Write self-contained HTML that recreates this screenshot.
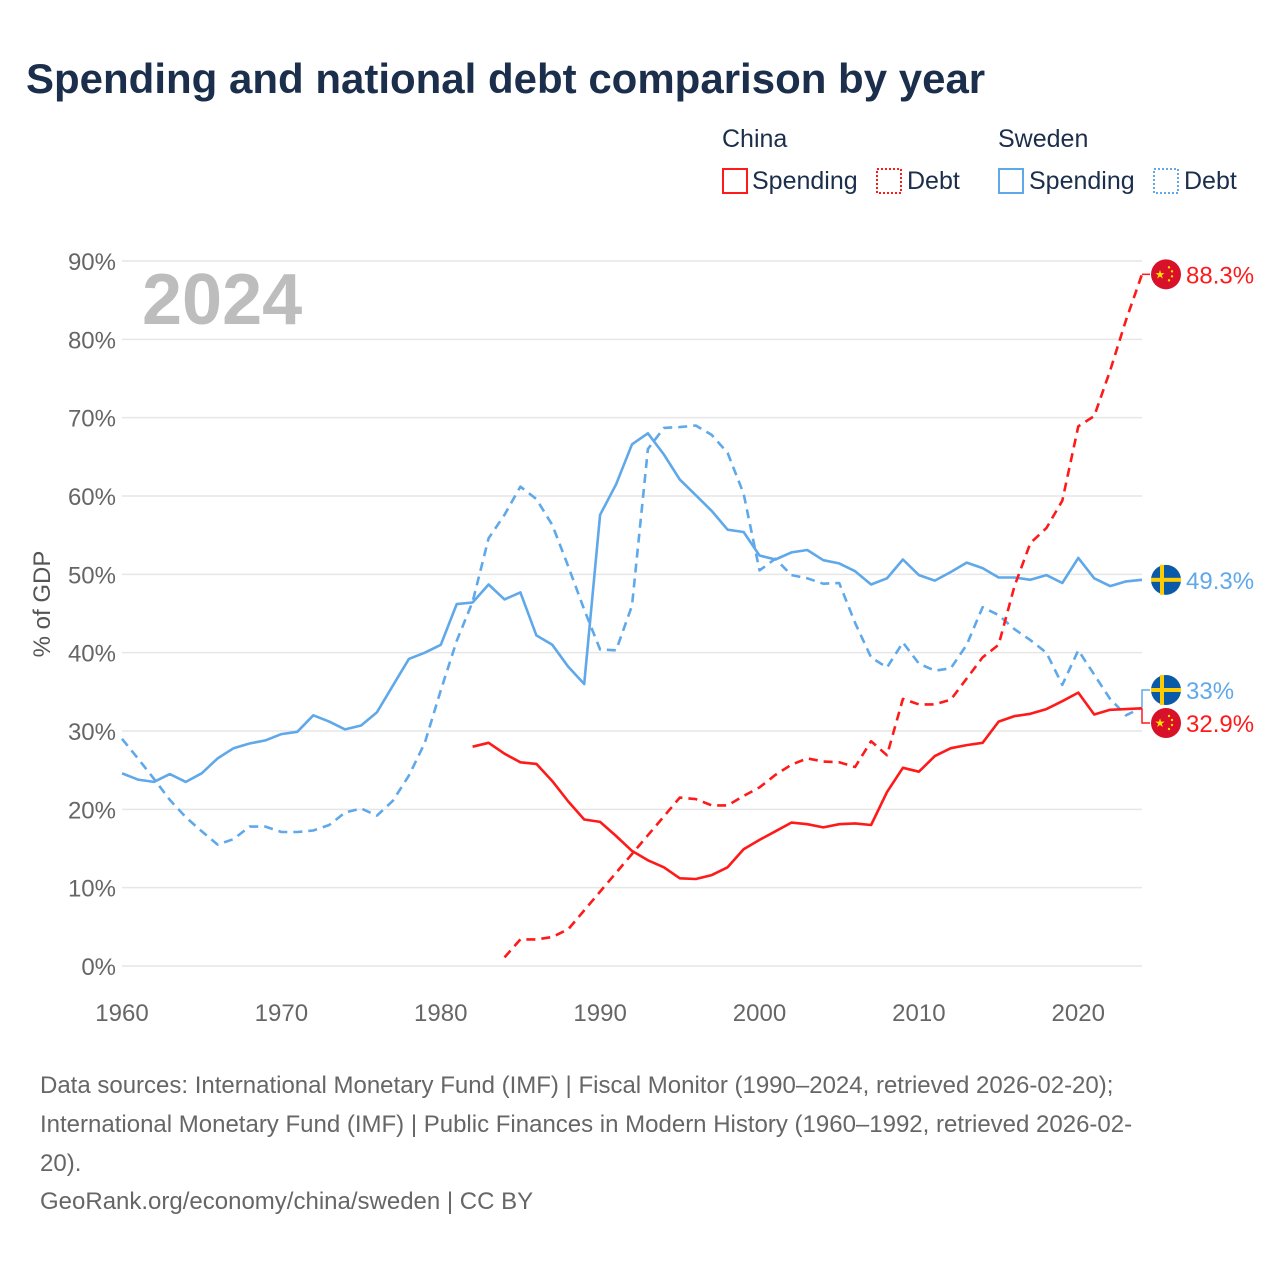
<!DOCTYPE html>
<html><head><meta charset="utf-8"><style>
body{margin:0;background:#fff;font-family:"Liberation Sans",sans-serif;}
#wrap{position:relative;width:1280px;height:1280px;overflow:hidden;}
</style></head><body>
<div id="wrap">
<svg id="chart" width="1280" height="1280" xmlns="http://www.w3.org/2000/svg">
<text x="26" y="93" font-size="42" font-weight="bold" fill="#1b2e4b">Spending and national debt comparison by year</text>
<g font-size="25" fill="#1b2e4b">
<text x="722" y="147">China</text>
<text x="998" y="147">Sweden</text>
<g><rect x="723" y="169" width="24" height="24" fill="none" stroke="#ff1a1a" stroke-width="2"/><text x="752" y="189">Spending</text></g>
<g><rect x="877" y="169" width="24" height="24" fill="none" stroke="#ff1a1a" stroke-width="2" stroke-dasharray="2,2"/><text x="907" y="189">Debt</text></g>
<g><rect x="999" y="169" width="24" height="24" fill="none" stroke="#5fa8ea" stroke-width="2"/><text x="1029" y="189">Spending</text></g>
<g><rect x="1154" y="169" width="24" height="24" fill="none" stroke="#5fa8ea" stroke-width="2" stroke-dasharray="2,2"/><text x="1184" y="189">Debt</text></g>
</g>
<text x="142" y="324" font-size="72" font-weight="bold" fill="#bdbdbd">2024</text>
<text transform="translate(50,604) rotate(-90)" text-anchor="middle" font-size="24" fill="#555">% of GDP</text>
<g id="grid"></g><g id="series"></g><g id="ends"></g>
<g font-size="24" fill="#666">
<text x="40" y="1093">Data sources: International Monetary Fund (IMF) | Fiscal Monitor (1990–2024, retrieved 2026-02-20);</text>
<text x="40" y="1132">International Monetary Fund (IMF) | Public Finances in Modern History (1960–1992, retrieved 2026-02-</text>
<text x="40" y="1171">20).</text>
<text x="40" y="1209">GeoRank.org/economy/china/sweden | CC BY</text>
</g>
</svg>
</div>
<script>
const yTicks=[0,10,20,30,40,50,60,70,80,90];
const xTicks=[1960,1970,1980,1990,2000,2010,2020];
const sweSpendStart=1960;
const sweSpend=[24.6,23.8,23.5,24.5,23.5,24.6,26.5,27.8,28.4,28.8,29.6,29.9,32.0,31.2,30.2,30.7,32.4,35.8,39.2,40.0,41.0,46.2,46.4,48.7,46.8,47.7,42.2,41.0,38.2,36.0,57.6,61.5,66.6,68.0,65.3,62.1,60.1,58.1,55.7,55.4,52.4,51.9,52.8,53.1,51.8,51.4,50.4,48.7,49.5,51.9,49.9,49.2,50.3,51.5,50.8,49.6,49.6,49.3,49.9,48.9,52.1,49.5,48.5,49.1,49.3];
const sweDebtStart=1960;
const sweDebt=[29.0,26.5,23.9,21.2,19.0,17.2,15.5,16.2,17.8,17.8,17.1,17.1,17.3,18.0,19.6,20.1,19.2,21.1,24.3,28.5,35.2,41.5,46.5,54.6,57.6,61.2,59.6,56.3,51.0,45.5,40.4,40.3,46.0,66.0,68.7,68.8,69.0,67.8,65.5,60.3,50.5,52.0,49.9,49.5,48.8,48.9,43.8,39.4,38.1,41.3,38.6,37.7,38.0,41.0,45.8,44.8,43.0,41.6,40.0,35.9,40.3,37.2,34.1,32.0,33.0];
const chnSpendStart=1982;
const chnSpend=[28.0,28.5,27.1,26.0,25.8,23.6,21.0,18.7,18.4,16.6,14.7,13.5,12.6,11.2,11.1,11.6,12.6,14.9,16.1,17.2,18.3,18.1,17.7,18.1,18.2,18.0,22.2,25.3,24.8,26.8,27.8,28.2,28.5,31.2,31.9,32.2,32.8,33.8,34.9,32.1,32.7,32.8,32.9];
const chnDebtStart=1984;
const chnDebt=[1.1,3.4,3.4,3.7,4.7,7.1,9.5,11.9,14.3,16.7,19.1,21.5,21.3,20.5,20.5,21.7,22.8,24.4,25.7,26.5,26.1,26.0,25.4,28.7,26.9,34.1,33.4,33.4,34.0,36.7,39.4,41.0,48.5,54.0,55.9,59.4,68.9,70.2,76.0,82.5,88.3];
</script>
<script>
const NS="http://www.w3.org/2000/svg";
function X(yr){return 122+(yr-1960)*(1142-122)/64;}
function Y(v){return 966-v*(966-261)/90;}
function mk(tag,attrs,parent){const e=document.createElementNS(NS,tag);for(const k in attrs)e.setAttribute(k,attrs[k]);parent.appendChild(e);return e;}
const grid=document.getElementById('grid');
yTicks.forEach(t=>{
  const l=mk('line',{x1:122,x2:1142,y1:Y(t),y2:Y(t),stroke:'#e6e6e6','stroke-width':1.5},grid);
  
  
  const tx=mk('text',{x:116,y:Y(t)+9,'text-anchor':'end','font-size':24,fill:'#666'},grid);
  tx.textContent=t+'%';
  
  
});
xTicks.forEach(t=>{
  const tx=mk('text',{x:X(t),y:1021,'text-anchor':'middle','font-size':24,fill:'#666'},grid);
  tx.textContent=t;
  
  
});
const series=document.getElementById('series');
function line(arr,start,color,dash,name){
  const d=arr.map((v,i)=>(i?'L':'M')+X(start+i).toFixed(1)+','+Y(v).toFixed(1)).join(' ');
  const p=mk('path',{d:d,fill:'none',stroke:color,'stroke-width':2.6,'stroke-linejoin':'round'},series);
  if(dash)p.setAttribute('stroke-dasharray','9,6');
  
  
}
line(sweDebt,sweDebtStart,'#5fa8ea',true,'sweden-debt-line');
line(sweSpend,sweSpendStart,'#5fa8ea',false,'sweden-spending-line');
line(chnDebt,chnDebtStart,'#ff1a1a',true,'china-debt-line');
line(chnSpend,chnSpendStart,'#ff1a1a',false,'china-spending-line');
const ends=document.getElementById('ends');
function flag(cx,cy,type){
  const g=mk('g',{},ends);
  
  
  if(type==='china'){
    mk('circle',{cx:cx,cy:cy,r:15,fill:'#d8102a'},g);
    const s=mk('text',{x:cx-6,y:cy+4,'font-size':12,fill:'#ffde00','text-anchor':'middle'},g);s.textContent='★';
    [[3,-7],[6,-3],[6,2],[3,6]].forEach(o=>mk('circle',{cx:cx+o[0],cy:cy+o[1],r:1.2,fill:'#ffde00'},g));
  }else{
    mk('circle',{cx:cx,cy:cy,r:15,fill:'#0b5aa8'},g);
    mk('rect',{x:cx-15,y:cy-2,width:30,height:4,fill:'#fecc02'},g);
    mk('rect',{x:cx-6,y:cy-15,width:4,height:30,fill:'#fecc02'},g);
  }
}
function endLabel(y,txt,color,name){
  const t=mk('text',{x:1186,y:y+9,'font-size':24,fill:color},ends);
  t.textContent=txt;
  
  
}
const cdEnd=chnDebt[chnDebt.length-1], ssEnd=sweSpend[sweSpend.length-1], sdEnd=sweDebt[sweDebt.length-1], csEnd=chnSpend[chnSpend.length-1];
mk('path',{d:`M1142,${Y(cdEnd)} H1150`,stroke:'#ff1a1a','stroke-width':1.5,fill:'none'},ends);
mk('path',{d:`M1142,${Y(sdEnd)} V690 H1150`,stroke:'#5fa8ea','stroke-width':1.5,fill:'none'},ends);
mk('path',{d:`M1142,${Y(csEnd)} V723 H1150`,stroke:'#ff1a1a','stroke-width':1.5,fill:'none'},ends);
flag(1166,Y(cdEnd),'china');endLabel(Y(cdEnd),cdEnd+'%','#ff1a1a','china-debt-end-label');
flag(1166,Y(ssEnd),'sweden');endLabel(Y(ssEnd),ssEnd+'%','#5fa8ea','sweden-spending-end-label');
flag(1166,690,'sweden');endLabel(690,sdEnd+'%','#5fa8ea','sweden-debt-end-label');
flag(1166,723,'china');endLabel(723,csEnd+'%','#ff1a1a','china-spending-end-label');
</script>
</body></html>
